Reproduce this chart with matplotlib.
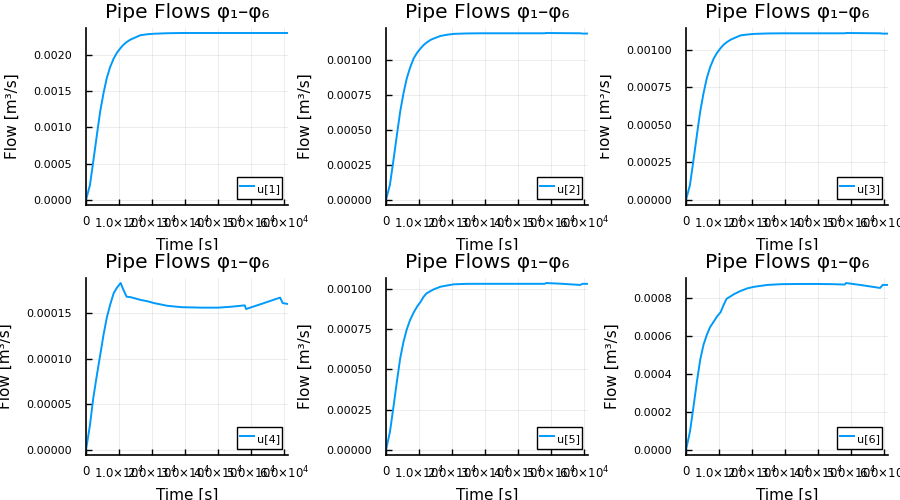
import numpy as np
import matplotlib
matplotlib.use("Agg")
import matplotlib.pyplot as plt
from matplotlib.ticker import FixedLocator, FormatStrFormatter
from matplotlib.transforms import Bbox, TransformedBbox

plt.rcParams['font.family'] = ['DejaVu Sans']
plt.rcParams['mathtext.fontset'] = 'dejavusans'

# time points [s] (tspan 0..61200)
t = [0, 1200, 2200, 3300, 4300, 5300, 6300, 7300, 8400, 9400, 10500, 11400,
     12300, 13500, 14500, 16500, 18600, 20600, 24700, 29000, 35000, 40000,
     44000, 48100, 48500, 53500, 58800, 59600, 61200]

# pipe flows, in 1e-3 m^3/s
u1 = [0, 0.207, 0.529, 0.897, 1.22, 1.47, 1.68, 1.83, 1.95, 2.03, 2.095, 2.14,
      2.175, 2.21, 2.23, 2.27, 2.283, 2.29, 2.297, 2.30, 2.30, 2.30,
      2.30, 2.30, 2.30, 2.30, 2.30, 2.30, 2.30]
u2 = [0, 0.11, 0.274, 0.464, 0.631, 0.762, 0.869, 0.945, 1.012, 1.05, 1.083, 1.106,
      1.124, 1.143, 1.153, 1.171, 1.18, 1.186, 1.189, 1.19, 1.19, 1.19,
      1.19, 1.19, 1.192, 1.191, 1.19, 1.188, 1.188]
u3 = [0, 0.10, 0.255, 0.433, 0.589, 0.71, 0.811, 0.884, 0.942, 0.98, 1.012, 1.034,
      1.05, 1.067, 1.077, 1.096, 1.102, 1.106, 1.109, 1.11, 1.11, 1.11,
      1.11, 1.11, 1.112, 1.111, 1.11, 1.108, 1.108]
u4 = [0, 0.0274, 0.0567, 0.0822, 0.104, 0.126, 0.145, 0.159, 0.172, 0.178, 0.183, 0.175,
      0.168, 0.1675, 0.1665, 0.1645, 0.163, 0.161, 0.158, 0.1565, 0.156, 0.156,
      0.157, 0.1585, 0.1545, 0.1605, 0.167, 0.161, 0.160]
u5 = [0, 0.113, 0.258, 0.424, 0.568, 0.671, 0.748, 0.806, 0.853, 0.888, 0.919, 0.95,
      0.971, 0.985, 0.996, 1.012, 1.02, 1.027, 1.03, 1.03, 1.03, 1.03,
      1.03, 1.03, 1.035, 1.03, 1.023, 1.03, 1.03]
u6 = [0, 0.0965, 0.219, 0.359, 0.474, 0.553, 0.605, 0.646, 0.675, 0.702, 0.725, 0.763,
      0.795, 0.808, 0.819, 0.836, 0.850, 0.858, 0.868, 0.872, 0.873, 0.873,
      0.872, 0.870, 0.878, 0.866, 0.852, 0.868, 0.868]

series = [u1, u2, u3, u4, u5, u6]
labels = ['u[1]', 'u[2]', 'u[3]', 'u[4]', 'u[5]', 'u[6]']

xticks = [0, 10000, 20000, 30000, 40000, 50000, 60000]
xticklabels = ['0'] + [r'$%d.0{\times}10^{4}$' % k for k in range(1, 7)]

yticks = [
    [0, 0.0005, 0.0010, 0.0015, 0.0020],
    [0, 0.00025, 0.0005, 0.00075, 0.0010],
    [0, 0.00025, 0.0005, 0.00075, 0.0010],
    [0, 0.00005, 0.00010, 0.00015],
    [0, 0.00025, 0.0005, 0.00075, 0.0010],
    [0, 0.0002, 0.0004, 0.0006, 0.0008],
]
yfmt = ['%.4f', '%.5f', '%.5f', '%.5f', '%.5f', '%.4f']

# axes boxes in pixels: left, top, right, bottom
boxes = [(86, 28, 288, 205), (386, 28, 588, 205), (686, 28, 888, 205),
         (86, 278, 288, 455), (386, 278, 588, 455), (686, 278, 888, 455)]

W, H = 900, 500
fig = plt.figure(figsize=(9, 5), dpi=100)
color = '#009AFA'

for i in range(6):
    l, tp, r, b = boxes[i]
    ax = fig.add_axes([l / W, 1 - b / H, (r - l) / W, (b - tp) / H])
    y = np.array(series[i]) * 1e-3
    ax.plot(t, y, color=color, lw=1.4, label=labels[i])
    ax.set_xlim(0, 61200)
    ax.margins(y=0.03)

    ax.xaxis.set_major_locator(FixedLocator(xticks))
    ax.set_xticklabels(xticklabels)
    ax.yaxis.set_major_locator(FixedLocator(yticks[i]))
    ax.yaxis.set_major_formatter(FormatStrFormatter(yfmt[i]))
    ax.tick_params(direction='in', length=4, width=1, labelsize=8)
    ax.tick_params(axis='x', labelsize=8.5, pad=7)
    ax.tick_params(axis='y', pad=10)

    for s in ['top', 'right']:
        ax.spines[s].set_visible(False)
    for s in ['left', 'bottom']:
        ax.spines[s].set_linewidth(1.2)
    ax.grid(True, color='black', alpha=0.1, lw=0.5)

    ax.set_title('Pipe Flows φ₁–φ₆', fontsize=14.5, pad=7)
    ax.set_xlabel('Time [s]', fontsize=11, labelpad=5)
    ax.set_ylabel('Flow [m³/s]', fontsize=11, labelpad=10)

    # top row: the x label is hidden below y=250 by the lower cells
    if i < 3:
        cell = Bbox([[0, 0.5], [1, 1]])
        ax.xaxis.label.set_clip_on(True)
        ax.xaxis.label.set_clip_box(TransformedBbox(cell, fig.transFigure))
    # third column: y label cut at x=600
    if i % 3 == 2:
        cell = Bbox([[600 / W, 0], [1, 1]])
        ax.yaxis.label.set_clip_on(True)
        ax.yaxis.label.set_clip_box(TransformedBbox(cell, fig.transFigure))

    leg = ax.legend(loc='lower right', fontsize=8, fancybox=False,
                    framealpha=1, edgecolor='black', borderpad=0.25,
                    handlelength=1.3, handletextpad=0.2, handleheight=2.0,
                    borderaxespad=0.5)
    leg.get_frame().set_linewidth(1.0)

fig.savefig('out.png', dpi=100)
